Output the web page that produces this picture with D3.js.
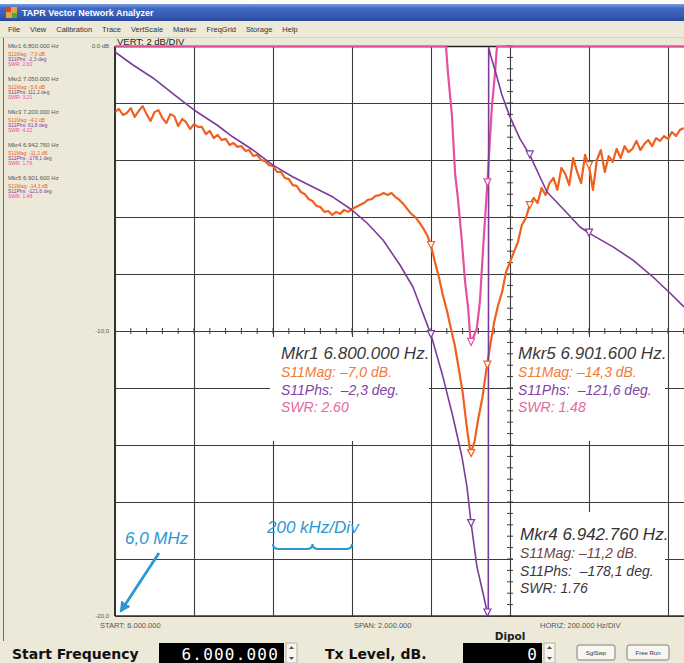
<!DOCTYPE html>
<html><head><meta charset="utf-8">
<script src="https://cdn.jsdelivr.net/npm/d3@7/dist/d3.min.js"></script>
<style>
html,body{margin:0;padding:0;background:#ece9d8;}
svg{display:block;}
</style></head><body>
<svg id="c" width="684" height="663"></svg>
<script>
// ---- sweep setup ----
const startMHz = 6.0, spanMHz = 2.0, divMHz = 0.2;
const xGrid = [6.0, 6.2, 6.4, 6.6, 6.8, 7.0, 7.2, 7.4, 7.6, 7.8, 8.0];
const dbGrid = [0, -2, -4, -6, -8, -10, -12, -14, -16, -18, -20];
const menuItems = ["File", "View", "Calibration", "Trace", "VertScale", "Marker", "FreqGrid", "Storage", "Help"];

// ---- S11 magnitude, dB (sweep points every 10 kHz from 6.00 MHz) ----
const magStepMHz = 0.01;
const magDb = [
  -2.32,-2.21,-2.42,-2.35,-2.18,-2.49,-2.28,-2.11,-2.39,-2.63,-2.32,-2.25,-2.53,-2.70,-2.39,-2.46,-2.81,-2.56,-2.67,-2.91,-2.74,-2.84,
  -2.84,-3.09,-2.98,-3.23,-3.12,-3.30,-3.26,-3.47,-3.40,-3.54,-3.51,-3.68,-3.65,-3.86,-3.82,-4.00,-4.04,-4.18,
  -4.21,-4.42,-4.42,-4.63,-4.67,-4.88,-4.91,-5.12,-5.19,-5.37,-5.44,-5.61,-5.65,-5.82,-5.79,-5.93,-5.82,-5.89,-5.75,-5.82,
  -5.72,-5.65,-5.58,-5.51,-5.40,-5.37,-5.26,-5.23,-5.16,-5.23,-5.16,-5.30,-5.40,-5.54,-5.72,-5.89,-6.00,-6.18,-6.39,-6.63,
  -7.00,-7.58,-8.11,-8.74,-9.26,-9.89,-10.49,-11.30,-12.14,-13.30,-14.30,-13.90,-13.05,-12.35,-11.37,-10.49,-9.68,-9.09,-8.63,
  -7.93,-7.58,-7.23,-6.88,-6.28,-6.04,-5.58,
  -5.33,-5.51,-4.98,-5.23,-4.81,-4.63,-5.05,-4.28,-4.49,-4.88,-3.93,-4.42,-4.81,-3.82,-4.20,-5.05,-4.00,-3.65,-4.42,-3.86,
  -4.07,-3.61,-3.93,-3.51,-3.72,-3.61,-3.33,-3.65,-3.44,-3.30,-3.51,-3.23,-3.33,-3.16,-3.26,-3.02,-3.16,-2.95,-2.88
];

// ---- S11 phase, degrees ----
const phsFreq = [6.000,6.0456,6.0962,6.157,6.200,6.2582,6.2987,6.3494,6.400,6.4506,6.5013,6.5519,6.600,6.638,6.6785,6.7215,6.7544,6.800,
  6.8304,6.8557,6.8785,6.8911,6.9016,6.9165,6.9316,6.94276,6.9450,6.9460,6.9506,6.962,6.9797,7.000,7.0253,7.050,7.0937,7.1443,7.1772,7.200,7.2608,7.3114,7.362,7.405,7.4405];
const phsDeg = [176.2,168.0,159.8,147.8,139.6,130.1,122.5,114.3,104.8,97.3,90.9,84.6,76.4,68.2,57.5,41.7,27.8,-2.3,
  -29.1,-54.3,-79.6,-98.5,-121.6,-149.1,-165.5,-178.1,-179.8,179.0,174.3,164.8,149.1,135.2,121.3,111.2,87.8,74.5,65.7,61.8,53.1,44.8,34.1,24.0,15.2];

// ---- SWR (display range 1.0 .. 2.0, higher values sit on the top edge) ----
const swrFreq = [6.000,6.200,6.400,6.600,6.800,6.830,6.838,6.843,6.853,6.861,6.868,6.878,6.886,6.894,6.899,6.9016,6.909,6.916,6.924,6.932,6.94276,6.949,6.954,6.962,6.967,6.980,7.050,7.200,7.440];
const swrVal  = [7.6,6.2,4.2,3.1,2.60,2.15,2.00,1.953,1.879,1.777,1.735,1.660,1.589,1.542,1.493,1.48,1.493,1.505,1.554,1.647,1.76,1.835,1.893,1.953,2.00,2.15,3.21,4.22,6.0];

// ---- markers ----
const markerName = ["Mkr1", "Mkr2", "Mkr3", "Mkr4", "Mkr5"];
const markerFreq = [6.8, 7.05, 7.2, 6.94276, 6.9016];
const markerMag  = [-7.0, -5.6, -4.2, -11.2, -14.3];
const markerPhs  = [-2.3, 111.2, 61.8, -178.1, -121.6];
const markerSwr  = [2.60, 3.21, 4.22, 1.76, 1.48];

// ---- colours ----
const cMag = "#f0601e", cPhs = "#7b3b9c", cSwr = "#e4509c", cBlue = "#2b97d3";

const svg = d3.select("#c");
const W = 684, H = 663;
const P = {left: 115, top: 46, bottom: 616, right: 905};

const x = d3.scaleLinear().domain([startMHz, startMHz + spanMHz]).range([P.left, P.right]);
const yDb = d3.scaleLinear().domain([-20, 0]).range([P.bottom, P.top]);
const yPh = d3.scaleLinear().domain([-180, 180]).range([P.bottom, P.top]);
const ySwr = d3.scaleLinear().domain([1, 2]).range([P.bottom, P.top]).clamp(true);

const sans = "'Liberation Sans', Arial, sans-serif";
const deja = "'DejaVu Sans', Verdana, sans-serif";

// ---- window chrome ----
svg.append("rect").attr("width", W).attr("height", H).attr("fill", "#ece9d8");
svg.append("rect").attr("width", W).attr("height", 4).attr("fill", "#fbfbfb");
const defs = svg.append("defs");
const tg = defs.append("linearGradient").attr("id", "tbar").attr("x1", 0).attr("y1", 0).attr("x2", 0).attr("y2", 1);
[["0%", "#7a9be0"], ["25%", "#4069c4"], ["75%", "#3458b2"], ["100%", "#2a4797"]]
  .forEach(s => tg.append("stop").attr("offset", s[0]).attr("stop-color", s[1]));
svg.append("rect").attr("x", 0).attr("y", 4).attr("width", W).attr("height", 17).attr("fill", "url(#tbar)");
// app icon
svg.append("rect").attr("x", 6).attr("y", 7).attr("width", 11).attr("height", 11).attr("fill", "#e9a23b");
svg.append("rect").attr("x", 6).attr("y", 7).attr("width", 5).attr("height", 5).attr("fill", "#d8452b");
svg.append("rect").attr("x", 12).attr("y", 13).attr("width", 5).attr("height", 5).attr("fill", "#4aa84a");
svg.append("text").attr("x", 22).attr("y", 16).attr("fill", "#fff").attr("font-family", sans)
  .attr("font-weight", "bold").attr("font-size", 9).text("TAPR Vector Network Analyzer");

// menu bar
let mx = 8;
menuItems.forEach(m => {
  const t = svg.append("text").attr("x", mx).attr("y", 32).attr("fill", "#333")
    .attr("font-family", sans).attr("font-size", 7.5).text(m);
  mx += t.node().getComputedTextLength() + 10;
});
svg.append("line").attr("x1", 0).attr("x2", W).attr("y1", 37.5).attr("y2", 37.5).attr("stroke", "#d6d2c2");
// window frame on the left
svg.append("line").attr("x1", 3.5).attr("x2", 3.5).attr("y1", 38).attr("y2", 641).attr("stroke", "#6d6d6d");

svg.append("text").attr("x", 117).attr("y", 45).attr("fill", "#222").attr("font-family", sans)
  .attr("font-size", 9.5).text("VERT:  2 dB/DIV");

// ---- plot area ----
svg.append("rect").attr("x", P.left).attr("y", P.top).attr("width", W - P.left).attr("height", P.bottom - P.top).attr("fill", "#fff");

const gx = svg.append("g").attr("transform", `translate(0,${P.bottom})`)
  .call(d3.axisBottom(x).tickValues(xGrid).tickSize(-(P.bottom - P.top)).tickFormat(""));
gx.select(".domain").remove();
gx.selectAll("line").attr("stroke", "#3c3c3c").attr("stroke-width", 1.1);

const gy = svg.append("g").attr("transform", `translate(${P.left},0)`)
  .call(d3.axisLeft(yDb).tickValues(dbGrid).tickSize(-(P.right - P.left)).tickFormat(""));
gy.select(".domain").remove();
gy.selectAll("line").attr("stroke", "#3c3c3c").attr("stroke-width", 1.1);

// white panels behind the marker read-outs
const boxes = [
  {x: 270, y: 337, w: 159, h: 104},
  {x: 513, y: 337, w: 152, h: 104},
  {x: 513, y: 512, w: 152, h: 103}
];
svg.selectAll("rect.box").data(boxes).join("rect").attr("class", "box")
  .attr("x", d => d.x).attr("y", d => d.y).attr("width", d => d.w).attr("height", d => d.h).attr("fill", "#fff");

// minor ticks on the centre axes
const cy = yDb(-10), cx = x(7.0);
svg.append("g").selectAll("line").data(d3.range(6.0, 8.0001, divMHz / 5)).join("line")
  .attr("x1", d => x(d)).attr("x2", d => x(d)).attr("y1", cy - 3).attr("y2", cy + 3)
  .attr("stroke", "#3c3c3c");
svg.append("g").selectAll("line").data(d3.range(-20, 0.0001, 0.4)).join("line")
  .attr("y1", d => yDb(d)).attr("y2", d => yDb(d)).attr("x1", cx - 3).attr("x2", cx + 3)
  .attr("stroke", "#3c3c3c");

// frame
svg.append("line").attr("x1", P.left).attr("x2", W).attr("y1", P.top + 0.5).attr("y2", P.top + 0.5).attr("stroke", "#222").attr("stroke-width", 1.5);
svg.append("line").attr("x1", P.left).attr("x2", W).attr("y1", P.bottom).attr("y2", P.bottom).attr("stroke", "#333").attr("stroke-width", 1.5);
svg.append("line").attr("x1", P.left).attr("x2", P.left).attr("y1", P.top).attr("y2", P.bottom).attr("stroke", "#333").attr("stroke-width", 2);

// axis labels
const lab = [["0,0 dB", 0], ["-10,0", -10], ["-20,0", -20]];
lab.forEach(l => svg.append("text").attr("x", 109).attr("y", yDb(l[1]) + 2).attr("text-anchor", "end")
  .attr("fill", "#555").attr("font-family", sans).attr("font-size", 6).text(l[0]));

// ---- traces ----
defs.append("clipPath").attr("id", "plotClip").append("rect")
  .attr("x", P.left).attr("y", P.top - 3).attr("width", W - P.left).attr("height", P.bottom - P.top + 6);
const traces = svg.append("g").attr("clip-path", "url(#plotClip)");

const magPts = magDb.map((v, i) => [startMHz + i * magStepMHz, v]);
const phsPts = phsFreq.map((f, i) => [f, phsDeg[i]]);
const swrPts = swrFreq.map((f, i) => [f, swrVal[i]]);

traces.append("path").datum(magPts).attr("fill", "none").attr("stroke", cMag).attr("stroke-width", 2.2)
  .attr("stroke-linejoin", "round").attr("d", d3.line().x(d => x(d[0])).y(d => yDb(d[1])));
traces.append("path").datum(swrPts).attr("fill", "none").attr("stroke", cSwr).attr("stroke-width", 2.2)
  .attr("stroke-linejoin", "round").attr("d", d3.line().x(d => x(d[0])).y(d => ySwr(d[1]) + 0.5));
traces.append("path").datum(phsPts).attr("fill", "none").attr("stroke", cPhs).attr("stroke-width", 1.6)
  .attr("stroke-linejoin", "round").attr("d", d3.line().x(d => x(d[0])).y(d => yPh(d[1])));

// marker triangles on each trace
function tri(px, py) { return `M${px - 3.5},${py - 4}L${px + 3.5},${py - 4}L${px},${py + 3}Z`; }
markerFreq.forEach((f, i) => {
  traces.append("path").attr("d", tri(x(f), yDb(markerMag[i]))).attr("fill", "#fff").attr("stroke", cMag).attr("stroke-width", 1.2);
  traces.append("path").attr("d", tri(x(f), yPh(markerPhs[i]))).attr("fill", "#fff").attr("stroke", cPhs).attr("stroke-width", 1.2);
  if (markerSwr[i] < 2) traces.append("path").attr("d", tri(x(f), ySwr(markerSwr[i]))).attr("fill", "#fff").attr("stroke", cSwr).attr("stroke-width", 1.2);
});

// ---- marker list on the left ----
const dotLoc = d3.formatLocale({decimal: ",", thousands: ".", grouping: [3], currency: ["", ""], minus: "-"});
const dashLoc = d3.formatLocale({decimal: ",", thousands: ".", grouping: [3], currency: ["", ""], minus: "\u2013"});
const fHz = dotLoc.format(",.0f");
markerName.forEach((n, i) => {
  const b = 48 + 33 * i;
  const g = svg.append("g").attr("font-family", sans);
  g.append("text").attr("x", 8).attr("y", b).attr("font-size", 6).attr("fill", "#555")
    .text(`${n} ${fHz(markerFreq[i] * 1e6)} Hz`);
  g.append("text").attr("x", 8).attr("y", b + 8).attr("font-size", 5).attr("fill", cMag)
    .text(`S11Mag: ${dotLoc.format(".1f")(markerMag[i])} dB`);
  g.append("text").attr("x", 8).attr("y", b + 13).attr("font-size", 5).attr("fill", cPhs)
    .text(`S11Phs: ${dotLoc.format(".1f")(markerPhs[i])} deg`);
  g.append("text").attr("x", 8).attr("y", b + 18).attr("font-size", 5).attr("fill", cSwr)
    .text(`SWR: ${d3.format(".2f")(markerSwr[i])}`);
});

// ---- marker read-outs in the plot ----
const callouts = [
  {m: 0, x: 281, y: 359, col: ["#3a3a3a", "#f07a3e", "#8240a6", "#e5679f"]},
  {m: 4, x: 518, y: 359, col: ["#3a3a3a", "#f07a3e", "#8240a6", "#e5679f"]},
  {m: 3, x: 520, y: 540, col: ["#333", "#6e4444", "#3d3540", "#3d3540"]}
];
callouts.forEach(c => {
  const i = c.m;
  const lines = [
    `${markerName[i]} ${fHz(markerFreq[i] * 1e6)} Hz.`,
    `S11Mag: ${dashLoc.format(".1f")(markerMag[i])} dB.`,
    `S11Phs:  ${dashLoc.format(".1f")(markerPhs[i])} deg.`,
    `SWR: ${d3.format(".2f")(markerSwr[i])}`
  ];
  const offs = [0, 18, 36, 53];
  lines.forEach((t, k) => {
    svg.append("text").attr("x", c.x).attr("y", c.y + offs[k]).attr("fill", c.col[k])
      .attr("font-family", sans).attr("font-style", "italic")
      .attr("font-size", k === 0 ? 17 : 14).attr("xml:space", "preserve").style("white-space", "pre").text(t);
  });
});

// ---- blue annotations ----
svg.append("text").attr("x", 125).attr("y", 544).attr("fill", cBlue).attr("font-family", sans)
  .attr("font-style", "italic").attr("font-size", 17).text("6,0 MHz");
defs.append("marker").attr("id", "ah").attr("viewBox", "0 0 10 10").attr("refX", 8).attr("refY", 5)
  .attr("markerWidth", 4).attr("markerHeight", 4).attr("orient", "auto")
  .append("path").attr("d", "M0,0L10,5L0,10Z").attr("fill", cBlue);
svg.append("line").attr("x1", 159).attr("y1", 553).attr("x2", 121).attr("y2", 611)
  .attr("stroke", cBlue).attr("stroke-width", 2.8).attr("marker-end", "url(#ah)");

svg.append("text").attr("x", 267).attr("y", 533).attr("fill", cBlue).attr("font-family", sans)
  .attr("font-style", "italic").attr("font-size", 17).text("200 kHz/Div");
const b0 = x(6.4), b1 = x(6.6), bm = (b0 + b1) / 2;
svg.append("path").attr("fill", "none").attr("stroke", cBlue).attr("stroke-width", 2)
  .attr("d", `M${b0},544 Q${b0},549 ${b0 + 6},549 L${bm - 6},549 Q${bm},549 ${bm},544 Q${bm},549 ${bm + 6},549 L${b1 - 6},549 Q${b1},549 ${b1},544`);

// ---- sweep summary under the plot ----
const small = svg.append("g").attr("fill", "#555").attr("font-family", sans).attr("font-size", 7.5);
small.append("text").attr("x", 100).attr("y", 628).text(`START: ${fHz(startMHz * 1e6)}`);
small.append("text").attr("x", 354).attr("y", 628).text(`SPAN: ${fHz(spanMHz * 1e6)}`);
small.append("text").attr("x", 540).attr("y", 628).text(`HORIZ: ${fHz(divMHz * 1e6)} Hz/DIV`);
svg.append("text").attr("x", 510).attr("y", 640).attr("text-anchor", "middle").attr("fill", "#222")
  .attr("font-family", deja).attr("font-weight", "bold").attr("font-size", 10.5).text("Dipol");

// ---- control bar ----
const ctl = svg.append("g").attr("font-family", deja).attr("font-weight", "bold").attr("font-size", 14).attr("fill", "#111");
ctl.append("text").attr("x", 12).attr("y", 659).text("Start Frequency");
ctl.append("text").attr("x", 325).attr("y", 659).text("Tx Level, dB.");
svg.append("rect").attr("x", 159).attr("y", 643).attr("width", 125).attr("height", 20).attr("fill", "#000");
svg.append("text").attr("x", 279).attr("y", 660).attr("text-anchor", "end").attr("fill", "#fff")
  .attr("font-family", "'DejaVu Sans Mono', monospace").attr("font-size", 16).attr("letter-spacing", 1.2).text(fHz(startMHz * 1e6));
svg.append("rect").attr("x", 463).attr("y", 643).attr("width", 79).attr("height", 20).attr("fill", "#000");
svg.append("text").attr("x", 537).attr("y", 660).attr("text-anchor", "end").attr("fill", "#fff")
  .attr("font-family", "'DejaVu Sans Mono', monospace").attr("font-size", 16).text("0");
[286, 544].forEach(sx => {
  svg.append("rect").attr("x", sx).attr("y", 643).attr("width", 11).attr("height", 20).attr("fill", "#f5f4ef").attr("stroke", "#b5b2a6");
  svg.append("path").attr("d", `M${sx + 3},${649}L${sx + 8},${649}L${sx + 5.5},${646}Z`).attr("fill", "#555");
  svg.append("path").attr("d", `M${sx + 3},${657}L${sx + 8},${657}L${sx + 5.5},${660}Z`).attr("fill", "#555");
});
[["SglSwp", 577, 38], ["Free Run", 627, 42]].forEach(bn => {
  svg.append("rect").attr("x", bn[1]).attr("y", 645).attr("width", bn[2]).attr("height", 15).attr("rx", 2)
    .attr("fill", "#f7f6f1").attr("stroke", "#7f7f7f");
  svg.append("text").attr("x", bn[1] + bn[2] / 2).attr("y", 655).attr("text-anchor", "middle")
    .attr("font-family", sans).attr("font-size", 6).attr("fill", "#333").text(bn[0]);
});
</script>
</body></html>
